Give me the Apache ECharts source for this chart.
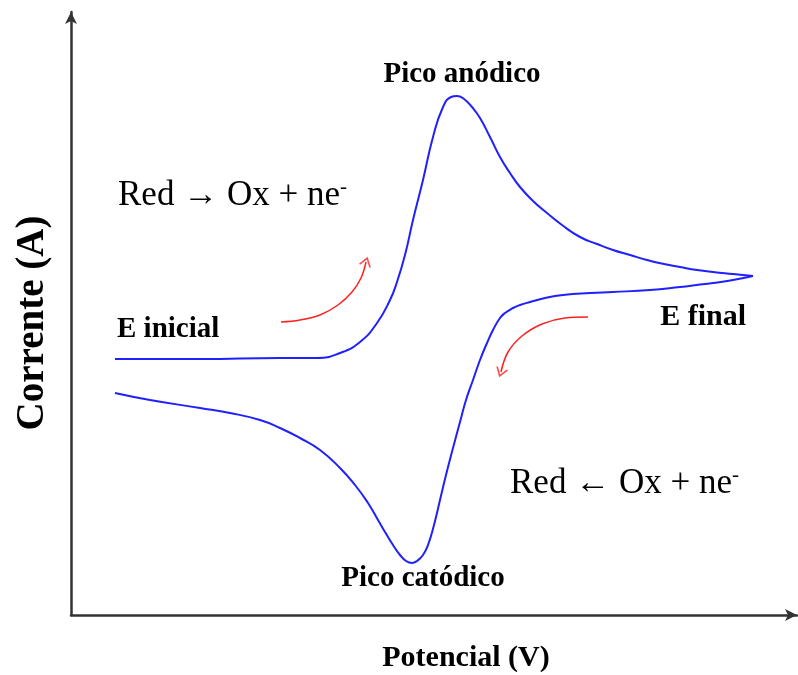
<!DOCTYPE html>
<html><head><meta charset="utf-8">
<script src="https://cdn.jsdelivr.net/npm/echarts@6/dist/echarts.min.js"></script>
<style>html,body{margin:0;padding:0;background:#fff}#c{width:798px;height:675px}</style>
</head><body><div id="c"></div>
<script>
// Forward scan (potential, current) in arbitrary units
var fwdE = [44,129,209,246,269,289,306,319,326,334,342,352,362,372,380,386,393,401,409,419,429,439,449,462,476,491,509,526,542,559,576,593,609,626,642,662,682];
var fwdI = [256,256,257,257,262,273,292,315,333,360,395,435,478,508,518,519,516,508,497,478,458,442,428,414,402,390,378,371,365,360,355,351,348,345,343,341,339];
// Reverse scan
var revE = [682,662,642,626,609,579,542,519,492,474,459,449,442,434,429,422,416,409,402,395,389,382,375,369,363,357,352,346,341,335,329,322,314,307,297,284,269,249,229,209,189,159,129,79,44];
var revI = [339,335,332,330,328,325,323,322,320,317,313,310,307,302,297,285,272,255,235,215,193,167,140,115,90,70,60,54,52,54,60,70,83,95,112,130,147,165,177,187,195,202,207,215,222];
// Red direction arrows
var arrow1E = [210,229,249,267,281,290,295];
var arrow1I = [293,295,300,310,323,337,353];
var arrow2E = [517,494,471,451,437,430];
var arrow2I = [298,297,291,279,263,243];

function zip(a, b) { return a.map(function (v, i) { return [v, b[i]]; }); }
function head(E, I) {
  var n = E.length - 1;
  var ang = Math.atan2(I[n] - I[n - 1], E[n] - E[n - 1]) * 180 / Math.PI;
  return { value: [E[n], I[n]], symbolRotate: ang - 90 };
}

var serif = '"Liberation Serif", "Times New Roman", serif';
var chart = echarts.init(document.getElementById('c'));
chart.setOption({
  animation: false,
  backgroundColor: '#fff',
  grid: { left: 71, top: 12, right: 1, bottom: 60 },
  xAxis: {
    type: 'value', min: 0, max: 726,
    axisLine: { show: true, symbol: ['none', 'arrow'], symbolSize: [9, 12], lineStyle: { color: '#333', width: 2.5 } },
    axisTick: { show: false }, axisLabel: { show: false }, splitLine: { show: false }
  },
  yAxis: {
    type: 'value', min: 0, max: 603,
    axisLine: { show: true, symbol: ['none', 'arrow'], symbolSize: [9, 12], lineStyle: { color: '#333', width: 2.5 } },
    axisTick: { show: false }, axisLabel: { show: false }, splitLine: { show: false }
  },
  series: [
    { type: 'line', data: zip(fwdE, fwdI), showSymbol: false, smooth: 0.5, lineStyle: { color: '#2020ff', width: 2 } },
    { type: 'line', data: zip(revE, revI), showSymbol: false, smooth: 0.5, lineStyle: { color: '#2020ff', width: 2 } },
    { type: 'line', data: zip(arrow1E, arrow1I), showSymbol: false, smooth: 0.4, lineStyle: { color: '#ff2020', width: 1.5 } },
    { type: 'line', data: zip(arrow2E, arrow2I), showSymbol: false, smooth: 0.4, lineStyle: { color: '#ff2020', width: 1.5 } },
    { type: 'scatter', data: [head(arrow1E, arrow1I), head(arrow2E, arrow2I)],
      symbol: 'path://M0,10 L5,0 L10,10', symbolSize: [11, 8],
      itemStyle: { color: 'rgba(0,0,0,0)', borderColor: '#ff2020', borderWidth: 1.5 } }
  ],
  graphic: [
    { type: 'text', x: 462, y: 75, style: { text: 'Pico anódico', font: 'bold 29px ' + serif, fill: '#000', align: 'center', verticalAlign: 'middle' } },
    { type: 'text', x: 423, y: 579, style: { text: 'Pico catódico', font: 'bold 29px ' + serif, fill: '#000', align: 'center', verticalAlign: 'middle' } },
    { type: 'text', x: 117, y: 330, style: { text: 'E inicial', font: 'bold 29px ' + serif, fill: '#000', align: 'left', verticalAlign: 'middle' } },
    { type: 'text', x: 746, y: 317, style: { text: 'E final', font: 'bold 30px ' + serif, fill: '#000', align: 'right', verticalAlign: 'middle' } },
    { type: 'text', x: 118, y: 196, style: { text: '{a|Red → Ox + ne}{s|-}', align: 'left', verticalAlign: 'middle',
      rich: { a: { font: '35px ' + serif, color: '#000' }, s: { font: '21px ' + serif, color: '#000', verticalAlign: 'top', padding: [0, 0, 17, 0] } } } },
    { type: 'text', x: 510, y: 484, style: { text: '{a|Red ← Ox + ne}{s|-}', align: 'left', verticalAlign: 'middle',
      rich: { a: { font: '35px ' + serif, color: '#000' }, s: { font: '21px ' + serif, color: '#000', verticalAlign: 'top', padding: [0, 0, 17, 0] } } } },
    { type: 'text', x: 466, y: 658, style: { text: 'Potencial (V)', font: 'bold 30px ' + serif, fill: '#000', align: 'center', verticalAlign: 'middle' } },
    { type: 'text', x: 33, y: 323, rotation: Math.PI / 2, style: { text: 'Corrente (A)', font: 'bold 39px ' + serif, fill: '#000', align: 'center', verticalAlign: 'middle' } }
  ]
});
</script>
</body></html>
